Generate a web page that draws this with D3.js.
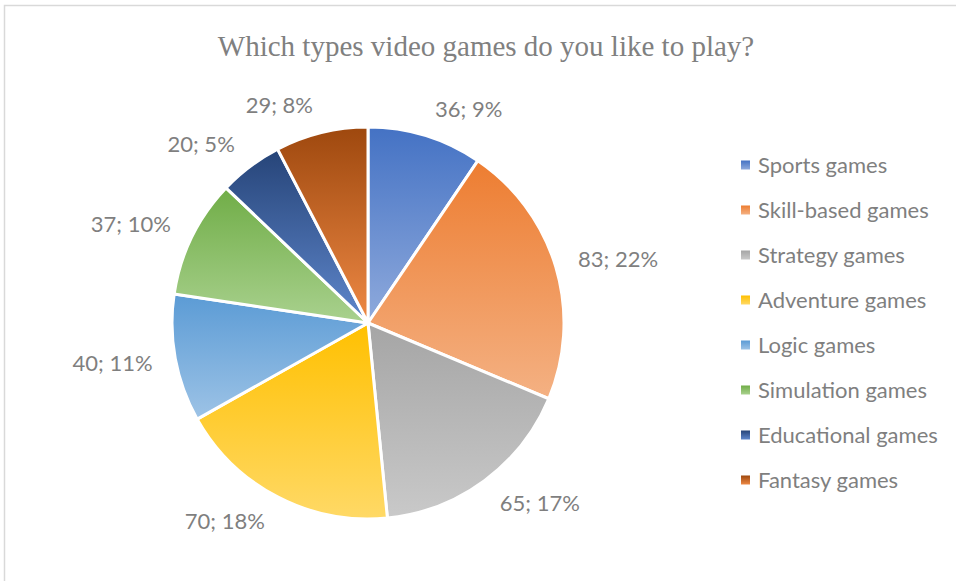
<!DOCTYPE html>
<html>
<head>
<meta charset="utf-8">
<script src="https://cdn.jsdelivr.net/npm/d3@7"></script>
<style>
  body { margin: 0; background: #fff; }
  svg { display: block; }
</style>
</head>
<body>
<div id="chart-area"></div>
<script>
const width = 956
const height = 581

const categories = ['Sports games', 'Skill-based games', 'Strategy games', 'Adventure games',
  'Logic games', 'Simulation games', 'Educational games', 'Fantasy games']
const counts = [36, 83, 65, 70, 40, 37, 20, 29]
const colors = ['#4472C4', '#ED7D31', '#A5A5A5', '#FFC000', '#5B9BD5', '#70AD47', '#264478', '#9E480E']

const cx = 368
const cy = 323
const radius = 196
const textColor = '#7f7f7f'

const svg = d3.select('#chart-area')
  .append('svg')
    .attr('width', width)
    .attr('height', height)

// lighter tint at the bottom of each slice
const tint = c => {
  const h = d3.hsl(c)
  h.l = h.l + (1 - h.l) * 0.4
  return h.formatHex()
}

const defs = svg.append('defs')
colors.forEach((c, i) => {
  const grad = defs.append('linearGradient')
    .attr('id', 'grad' + i)
    .attr('x1', 0).attr('y1', 0)
    .attr('x2', 0).attr('y2', 1)
  grad.append('stop').attr('offset', '0%').attr('stop-color', c)
  grad.append('stop').attr('offset', '100%').attr('stop-color', tint(c))
})

// chart frame
svg.append('rect')
  .attr('x', 4.5)
  .attr('y', 5.5)
  .attr('width', 1000)
  .attr('height', 1000)
  .attr('fill', 'none')
  .attr('stroke', '#d9d9d9')
  .attr('stroke-width', 1.5)

svg.append('text')
  .attr('x', 486)
  .attr('y', 56)
  .attr('text-anchor', 'middle')
  .attr('font-family', '"Liberation Serif", "Times New Roman", serif')
  .attr('font-size', '29px')
  .attr('fill', '#808080')
  .text('Which types video games do you like to play?')

const total = d3.sum(counts)
const data = categories.map((name, i) => ({ name, value: counts[i], i }))

const pie = d3.pie().sort(null).value(d => d.value)
const arc = d3.arc().innerRadius(0).outerRadius(radius)
const arcs = pie(data)

const g = svg.append('g')
  .attr('transform', `translate(${cx},${cy})`)

g.selectAll('path')
  .data(arcs)
  .enter()
  .append('path')
    .attr('d', arc)
    .attr('fill', d => `url(#grad${d.data.i})`)
    .attr('stroke', '#fff')
    .attr('stroke-width', 3)
    .attr('stroke-linejoin', 'round')

// outside-end labels
const labels = g.selectAll('text.lbl')
  .data(arcs)
  .enter()
  .append('text')
    .attr('class', 'lbl')
    .attr('font-family', 'Lato, "Open Sans", sans-serif')
    .attr('font-size', '22px')
    .attr('fill', textColor)
    .attr('text-anchor', 'middle')
    .attr('dy', '0.35em')
    .text(d => `${d.data.value}; ${Math.round(d.data.value / total * 100)}%`)

labels.each(function(d) {
  const a = (d.startAngle + d.endAngle) / 2
  const ux = Math.sin(a)
  const uy = -Math.cos(a)
  const bb = this.getBBox()
  const r = radius + 19
  const x = r * ux + Math.sign(ux) * (bb.width / 2 + 4)
  const y = r * uy + uy * 9
  d3.select(this).attr('x', x).attr('y', y)
})

// legend
const legend = svg.append('g')
  .attr('transform', 'translate(741,165)')

const rows = legend.selectAll('g')
  .data(data)
  .enter()
  .append('g')
    .attr('transform', (d, i) => `translate(0,${i * 45})`)

rows.append('rect')
  .attr('x', 0)
  .attr('y', -4.5)
  .attr('width', 9)
  .attr('height', 9)
  .attr('fill', d => `url(#grad${d.i})`)

rows.append('text')
  .attr('x', 17)
  .attr('dy', '0.35em')
  .attr('font-family', 'Lato, "Open Sans", sans-serif')
  .attr('font-size', '22px')
  .attr('fill', textColor)
  .text(d => d.name)
</script>
</body>
</html>
